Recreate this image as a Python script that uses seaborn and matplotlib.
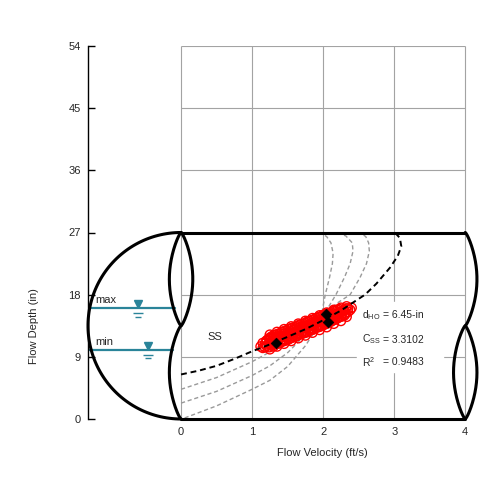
import numpy as np
import matplotlib
matplotlib.use("Agg")
import matplotlib.pyplot as plt
import seaborn as sns

# scattergraph data
vel = [1.12, 1.15, 1.15, 1.18, 1.18, 1.21, 1.21, 1.24, 1.24, 1.24,
       1.27, 1.27, 1.27, 1.30, 1.30, 1.30, 1.30, 1.33, 1.33, 1.33,
       1.36, 1.36, 1.36, 1.39, 1.39, 1.39, 1.42, 1.42, 1.42, 1.45,
       1.45, 1.45, 1.48, 1.48, 1.48, 1.51, 1.51, 1.51, 1.54, 1.54,
       1.54, 1.57, 1.57, 1.57, 1.60, 1.60, 1.60, 1.63, 1.63, 1.63,
       1.66, 1.66, 1.66, 1.69, 1.69, 1.69, 1.72, 1.72, 1.72, 1.75,
       1.75, 1.75, 1.78, 1.78, 1.78, 1.81, 1.81, 1.81, 1.84, 1.84,
       1.84, 1.87, 1.87, 1.87, 1.90, 1.90, 1.90, 1.93, 1.93, 1.93,
       1.96, 1.96, 1.96, 1.99, 1.99, 1.99, 2.02, 2.02, 2.02, 2.05,
       2.05, 2.05, 2.08, 2.08, 2.08, 2.11, 2.11, 2.11, 2.14, 2.14,
       2.14, 2.17, 2.17, 2.17, 2.20, 2.20, 2.20, 2.23, 2.23, 2.23,
       2.26, 2.26, 2.29, 2.29, 2.32, 2.32, 2.35, 2.35, 2.38,
       1.25, 1.25, 1.35, 1.35, 1.45, 1.45, 1.55, 1.55, 1.65, 1.65,
       1.75, 1.75, 1.85, 1.85, 1.95, 1.95, 2.05, 2.05, 2.15, 2.15,
       2.25, 2.25, 2.33, 2.33, 2.40,
       1.20, 1.20, 1.25, 1.25, 1.30, 1.30, 1.35, 1.35, 1.40, 1.40,
       1.45, 1.45, 1.50, 1.50, 1.55, 1.55, 1.60, 1.60, 1.65, 1.65,
       1.70, 1.70, 1.75, 1.75, 1.80, 1.80, 1.85, 1.85, 1.90, 1.90,
       1.95, 1.95, 2.00, 2.00, 2.05, 2.05, 2.10, 2.10, 2.15, 2.15,
       2.20, 2.20, 2.25, 2.25, 2.30, 2.30]
depth = [10.5, 10.3, 11.0, 10.9, 10.4, 10.6, 11.4, 10.4, 11.0, 11.7,
         10.7, 11.3, 11.9, 10.5, 11.2, 11.8, 12.1, 10.8, 11.5, 12.2,
         10.9, 11.6, 12.3, 11.0, 11.8, 12.4, 11.2, 11.9, 12.6, 11.3,
         12.0, 12.7, 11.4, 12.1, 12.8, 11.5, 12.3, 13.0, 11.7, 12.4,
         13.1, 11.8, 12.5, 13.2, 11.9, 12.6, 13.3, 12.0, 12.7, 13.4,
         12.2, 12.9, 13.6, 12.3, 13.0, 13.7, 12.4, 13.1, 13.8, 12.5,
         13.2, 13.9, 12.6, 13.3, 14.1, 12.8, 13.5, 14.2, 12.9, 13.6,
         14.3, 13.0, 13.7, 14.4, 13.2, 13.9, 14.6, 13.3, 14.0, 14.7,
         13.4, 14.1, 14.8, 13.5, 14.2, 15.0, 13.7, 14.4, 15.1, 13.8,
         14.5, 15.2, 14.0, 14.6, 15.3, 14.1, 14.8, 15.4, 14.3, 14.9,
         15.6, 14.4, 15.1, 15.7, 14.6, 15.2, 15.8, 14.8, 15.4, 15.9,
         15.0, 15.6, 15.1, 15.8, 15.3, 16.0, 15.5, 16.0, 15.8,
         10.1, 12.2, 10.5, 12.6, 10.9, 13.0, 11.3, 13.4, 11.7, 13.8,
         12.1, 14.2, 12.5, 14.6, 12.9, 15.0, 13.3, 15.4, 13.8, 15.8,
         14.2, 16.1, 14.8, 16.3, 16.1,
         10.6, 11.3, 10.8, 11.5, 11.0, 11.7, 11.2, 11.9, 11.4, 12.1,
         11.6, 12.3, 11.8, 12.5, 12.0, 12.7, 12.2, 12.9, 12.4, 13.1,
         12.6, 13.3, 12.8, 13.5, 13.0, 13.7, 13.2, 13.9, 13.4, 14.1,
         13.6, 14.3, 13.8, 14.5, 14.0, 14.7, 14.2, 14.9, 14.4, 15.1,
         14.6, 15.3, 14.8, 15.5, 15.0, 15.7]

# highlighted points
key_vel = [1.33, 2.04, 2.07]
key_depth = [11.0, 15.2, 14.05]

# Stevens-Schutzbach fit (d_HO = 6.45 in)
fit_vel = [0.0, 0.25, 0.5, 0.75, 1.0, 1.25, 1.5, 1.75, 2.0, 2.25, 2.5,
           2.59, 2.75, 2.94, 3.05, 3.1, 3.08, 3.01]
fit_depth = [6.45, 7.0, 7.7, 8.7, 9.8, 10.8, 11.9, 13.0, 14.3, 15.7, 17.4,
             18.0, 19.6, 21.9, 23.6, 25.0, 26.2, 27.0]

# alternative fits (other d_HO values)
alt_a_vel = [0.0, 0.5, 1.0, 1.25, 1.5, 1.75, 2.0, 2.2, 2.38, 2.52, 2.61,
             2.65, 2.64, 2.6, 2.52]
alt_a_depth = [4.3, 6.0, 8.3, 9.7, 11.2, 13.0, 15.0, 16.8, 18.0, 20.5, 22.5,
               24.3, 25.5, 26.4, 27.0]
alt_b_vel = [0.0, 0.5, 1.0, 1.25, 1.5, 1.75, 1.95, 2.08, 2.18, 2.3, 2.38,
             2.42, 2.41, 2.32, 2.19]
alt_b_depth = [2.3, 4.0, 6.3, 7.7, 9.6, 12.2, 14.6, 16.3, 18.0, 20.5, 22.5,
               24.3, 25.5, 26.5, 27.0]
alt_c_vel = [0.05, 0.5, 1.0, 1.25, 1.5, 1.75, 1.9, 1.98, 2.03, 2.09, 2.13,
             2.14, 2.11, 2.05, 1.96]
alt_c_depth = [0.15, 1.9, 4.3, 5.6, 7.6, 10.6, 13.0, 15.3, 18.0, 20.5, 22.5,
               24.0, 25.5, 26.4, 27.0]

water_levels = [16.0, 10.0]
water_names = ["max", "min"]
water_end = [-0.08, -0.12]
water_mark = [-0.6, -0.46]

stats_names = [r"d$_{\rm HO}$", r"C$_{\rm SS}$", r"R$^{\rm 2}$"]
stats_values = ["= 6.45-in", "= 3.3102", "= 0.9483"]
stats_depth = [15.1, 11.5, 8.3]

x_ticks = [0, 1, 2, 3, 4]
y_ticks = [0, 9, 18, 27, 36, 45, 54]

PIPE_D = 27.0
PIPE_LEN = 4.0
CAP_R = 1.31
LENS_W = 0.165

sns.set_theme(style="white")
plt.rcParams["font.family"] = ["Liberation Sans", "DejaVu Sans"]
plt.rcParams["mathtext.fontset"] = "custom"
plt.rcParams["mathtext.rm"] = "Liberation Sans"

fig = plt.figure(figsize=(5, 5), dpi=100)
ax = fig.add_axes([0.176, 0.162, 0.79, 0.746])

grid_c = "#a3a3a3"
ax.vlines(x_ticks, 0, 54, color=grid_c, lw=0.8, zorder=0)
ax.hlines(y_ticks, 0, PIPE_LEN, color=grid_c, lw=0.8, zorder=0)

# white box behind the fit statistics
ax.add_patch(plt.Rectangle((2.48, 6.8), 1.21, 10.1, color="white", zorder=0.5))


def bulge(y0, y):
    # lens-shaped pipe end profile, 0 at the ends and +-1 in the middle
    s = np.sin(np.pi * (y - y0) / (PIPE_D / 2))
    return np.sign(s) * np.abs(s) ** 0.75


# pipe outline
pk = dict(color="black", lw=2.2, clip_on=False, zorder=3)
ax.plot([0, PIPE_LEN], [PIPE_D, PIPE_D], **pk)
ax.plot([0, PIPE_LEN], [0, 0], **pk)
t = np.linspace(np.pi / 2, 3 * np.pi / 2, 100)
ax.plot(CAP_R * np.cos(t), PIPE_D / 2 + PIPE_D / 2 * np.sin(t), **pk)
yy = np.linspace(0, PIPE_D, 300)
yu = np.linspace(PIPE_D / 2, PIPE_D, 150)
yl = np.linspace(0, PIPE_D / 2, 150)
ax.plot(-LENS_W * bulge(0, yy), yy, **pk)
ax.plot(-LENS_W * bulge(PIPE_D / 2, yu), yu, **pk)
ax.plot(PIPE_LEN - LENS_W * bulge(0, yy), yy, **pk)
ax.plot(PIPE_LEN + LENS_W * bulge(0, yl), yl, **pk)

# water levels
teal = "#2a8499"
for lvl, name, xe, xm in zip(water_levels, water_names, water_end, water_mark):
    ax.plot([-CAP_R, xe], [lvl, lvl], color=teal, lw=1.6, zorder=2)
    ax.plot(xm, lvl + 0.6, marker="v", ms=6, color=teal, zorder=2)
    ax.plot(xm, lvl - 0.7, marker="_", ms=7, mew=1.0, color=teal, zorder=2)
    ax.plot(xm, lvl - 1.2, marker="_", ms=4.5, mew=1.0, color=teal, zorder=2)
    ax.text(-1.21, lvl + 1.2, name, fontsize=8, ha="left", va="center")

ax.text(0.47, 11.9, "SS", fontsize=8, ha="center", va="center")

# fitted curves
for cx, cy in [(alt_a_vel, alt_a_depth), (alt_b_vel, alt_b_depth),
               (alt_c_vel, alt_c_depth)]:
    sns.lineplot(x=cx, y=cy, sort=False, estimator=None, color="#9a9a9a",
                 lw=1.0, linestyle=(0, (3, 2)), ax=ax, zorder=2)

sns.scatterplot(x=vel, y=depth, marker="o", s=45, facecolors="none",
                edgecolor="red", linewidth=1.0, ax=ax, zorder=4)
sns.lineplot(x=fit_vel, y=fit_depth, sort=False, estimator=None,
             color="black", lw=1.4, linestyle=(0, (3, 2)), ax=ax, zorder=5)
sns.scatterplot(x=key_vel, y=key_depth, marker="D", s=30, color="black",
                edgecolor="black", ax=ax, zorder=6)

for name, val, yv in zip(stats_names, stats_values, stats_depth):
    ax.text(2.54, yv, name, fontsize=7.5, ha="left", va="center", zorder=6)
    ax.text(2.84, yv, val, fontsize=7.5, ha="left", va="center", zorder=6)

ax.set_xlim(-1.31, 4.25)
ax.set_ylim(0, 54)
ax.set_xticks(x_ticks)
ax.set_yticks(y_ticks)
for sp in ["top", "right", "bottom"]:
    ax.spines[sp].set_visible(False)
ax.spines["left"].set_color("black")
ax.spines["left"].set_linewidth(1.0)
ax.tick_params(axis="y", direction="in", length=5, width=1, color="black",
               labelsize=8, pad=5, left=True)
ax.tick_params(axis="x", length=0, labelsize=8, pad=6)

ax.set_xlabel("Flow Velocity (ft/s)", fontsize=8, va="center")
ax.xaxis.set_label_coords(0.594, -0.091)
ax.set_ylabel("Flow Depth (in)", fontsize=8, va="center")
ax.yaxis.set_label_coords(-0.137, 0.248)

fig.savefig("out.png", dpi=100)
